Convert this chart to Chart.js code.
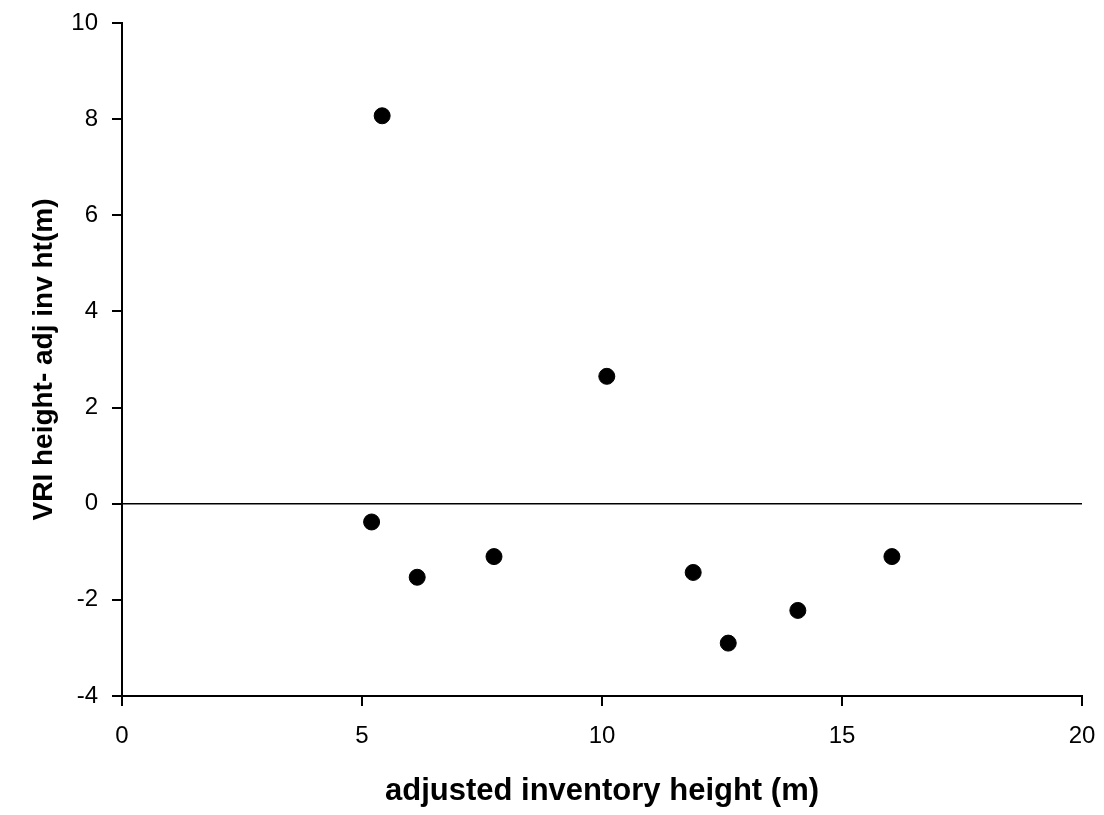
<!DOCTYPE html>
<html>
<head>
<meta charset="utf-8">
<script src="https://cdn.jsdelivr.net/npm/chart.js@4/dist/chart.umd.min.js"></script>
<style>
  html, body { margin: 0; padding: 0; background: #fff; }
  #wrap { width: 1104px; height: 815px; }
</style>
</head>
<body>
<div id="wrap"><canvas id="scatter"></canvas></div>
<script>
// data
const invHeight = [5.42, 5.2, 6.15, 7.75, 10.1, 11.9, 12.63, 14.08, 16.04];
const heightDiff = [8.07, -0.38, -1.53, -1.1, 2.65, -1.43, -2.9, -2.22, -1.1];
const zeroLineX = [0, 20];
const zeroLineY = [0, 0];
const xTitle = "adjusted inventory height (m)";
const yTitle = "VRI height- adj inv ht(m)";

const ctx = document.getElementById("scatter");
const fam = "Liberation Sans, Arial, sans-serif";

new Chart(ctx, {
  type: "scatter",
  data: {
    datasets: [
      {
        label: "zero",
        type: "line",
        data: zeroLineX.map((x, i) => ({ x: x, y: zeroLineY[i] })),
        borderColor: "#000",
        borderWidth: 1.5,
        pointRadius: 0,
        fill: false,
      },
      {
        label: "points",
        data: invHeight.map((x, i) => ({ x: x, y: heightDiff[i] })),
        backgroundColor: "#000",
        borderColor: "#000",
        pointRadius: 8,
        pointHoverRadius: 8,
      },
    ],
  },
  options: {
    responsive: true,
    maintainAspectRatio: false,
    animation: false,
    layout: { padding: { top: 23, right: 22, left: 0, bottom: 0 } },
    plugins: { legend: { display: false }, tooltip: { enabled: false } },
    scales: {
      x: {
        type: "linear",
        min: 0,
        max: 20,
        ticks: {
          stepSize: 5,
          color: "#000",
          padding: 16,
          font: { family: fam, size: 24 },
        },
        grid: { drawOnChartArea: false, tickLength: 10, color: "#000", lineWidth: 2 },
        border: { color: "#000", width: 2 },
        title: {
          display: true,
          text: xTitle,
          color: "#000",
          padding: { top: 0, bottom: 5 },
          font: { family: fam, size: 31, weight: "bold" },
        },
        afterFit: (axis) => {
          axis.height = 119;
          axis.paddingLeft = 0;
          axis.paddingRight = 0;
        },
      },
      y: {
        min: -4,
        max: 10,
        ticks: {
          stepSize: 2,
          color: "#000",
          padding: 14,
          font: { family: fam, size: 24 },
        },
        grid: { drawOnChartArea: false, tickLength: 10, color: "#000", lineWidth: 2 },
        border: { color: "#000", width: 2 },
        title: {
          display: true,
          text: yTitle,
          color: "#000",
          padding: { top: 27, bottom: 0 },
          font: { family: fam, size: 28, weight: "bold" },
        },
        afterFit: (axis) => {
          axis.width = 122;
          axis.paddingTop = 0;
          axis.paddingBottom = 0;
        },
      },
    },
  },
});
</script>
</body>
</html>
